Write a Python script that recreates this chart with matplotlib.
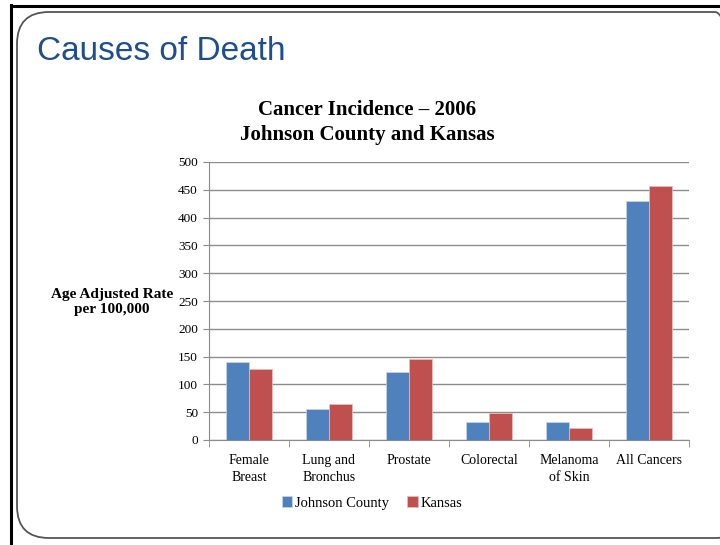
import matplotlib
matplotlib.use("Agg")
import matplotlib.pyplot as plt
import numpy as np
from matplotlib.patches import FancyBboxPatch
from matplotlib.lines import Line2D

categories = ["Female\nBreast", "Lung and\nBronchus", "Prostate", "Colorectal", "Melanoma\nof Skin", "All Cancers"]
johnson = [141, 55, 122, 33, 32, 429]
kansas = [128, 64, 146, 48, 21, 457]
series_names = ["Johnson County", "Kansas"]
yticks = [0, 50, 100, 150, 200, 250, 300, 350, 400, 450, 500]

W, H = 720, 545
fig = plt.figure(figsize=(W / 100, H / 100), dpi=100)
fig.patch.set_facecolor("white")

# slide frame
fig.add_artist(Line2D([11 / W, 11 / W], [0, 1 - 5 / H], transform=fig.transFigure, color="black", lw=2.2))
fig.add_artist(Line2D([11 / W, 1], [1 - 6 / H, 1 - 6 / H], transform=fig.transFigure, color="black", lw=2.2))
box = FancyBboxPatch((17, H - 538), 730, 526, boxstyle="round,pad=0,rounding_size=32",
                     transform=None, fill=False, edgecolor="#555555", lw=1.3)
fig.add_artist(box)

fig.text(37 / W, 1 - 52 / H, "Causes of Death", fontsize=24, color="#1F4E8C",
         family="Liberation Sans", ha="left", va="center")

serif = "Liberation Serif"
ax = fig.add_axes([209 / W, 1 - 440 / H, 480 / W, 278 / H])
x = np.arange(len(categories))
bw = 0.29
ax.bar(x - bw / 2, johnson, bw, color="#4F81BD", edgecolor="#C9D7EA", lw=0.5, label=series_names[0], zorder=3)
ax.bar(x + bw / 2, kansas, bw, color="#C0504D", edgecolor="#E8C0BF", lw=0.5, label=series_names[1], zorder=3)
ax.set_xlim(-0.5, len(categories) - 0.5)
ax.set_ylim(0, 500)
ax.set_yticks(yticks)
ax.set_yticklabels([str(v) for v in yticks], family=serif, fontsize=9.5)
ax.yaxis.grid(True, color="#8C8C8C", lw=1.0, zorder=0)
ax.set_xticks(x)
ax.set_xticklabels(categories, family=serif, fontsize=10, linespacing=1.4)
ax.set_xticks(np.arange(-0.5, len(categories)), minor=True)
ax.tick_params(axis="x", which="major", length=0, pad=10)
ax.tick_params(axis="x", which="minor", length=5, color="#8C8C8C", direction="out")
ax.tick_params(axis="y", length=4, color="#8C8C8C", pad=4)
for s in ["top", "right"]:
    ax.spines[s].set_visible(False)
for s in ["left", "bottom"]:
    ax.spines[s].set_color("#8C8C8C")

fig.text(367 / W, 1 - 110 / H, "Cancer Incidence \u2013 2006", fontsize=15, weight="bold",
         family=serif, ha="center", va="center")
fig.text(367 / W, 1 - 135 / H, "Johnson County and Kansas", fontsize=15, weight="bold",
         family=serif, ha="center", va="center")
fig.text(112 / W, 1 - 302 / H, "Age Adjusted Rate\nper 100,000", fontsize=11, weight="bold",
         family=serif, ha="center", va="center", linespacing=1.2)

leg = fig.legend(loc="center", bbox_to_anchor=(372 / W, 1 - 503 / H), ncol=2, frameon=False,
                 prop={"family": serif, "size": 10.5}, handlelength=0.75, handleheight=0.75,
                 handletextpad=0.2, columnspacing=1.2)

fig.savefig("out.png", dpi=100)
